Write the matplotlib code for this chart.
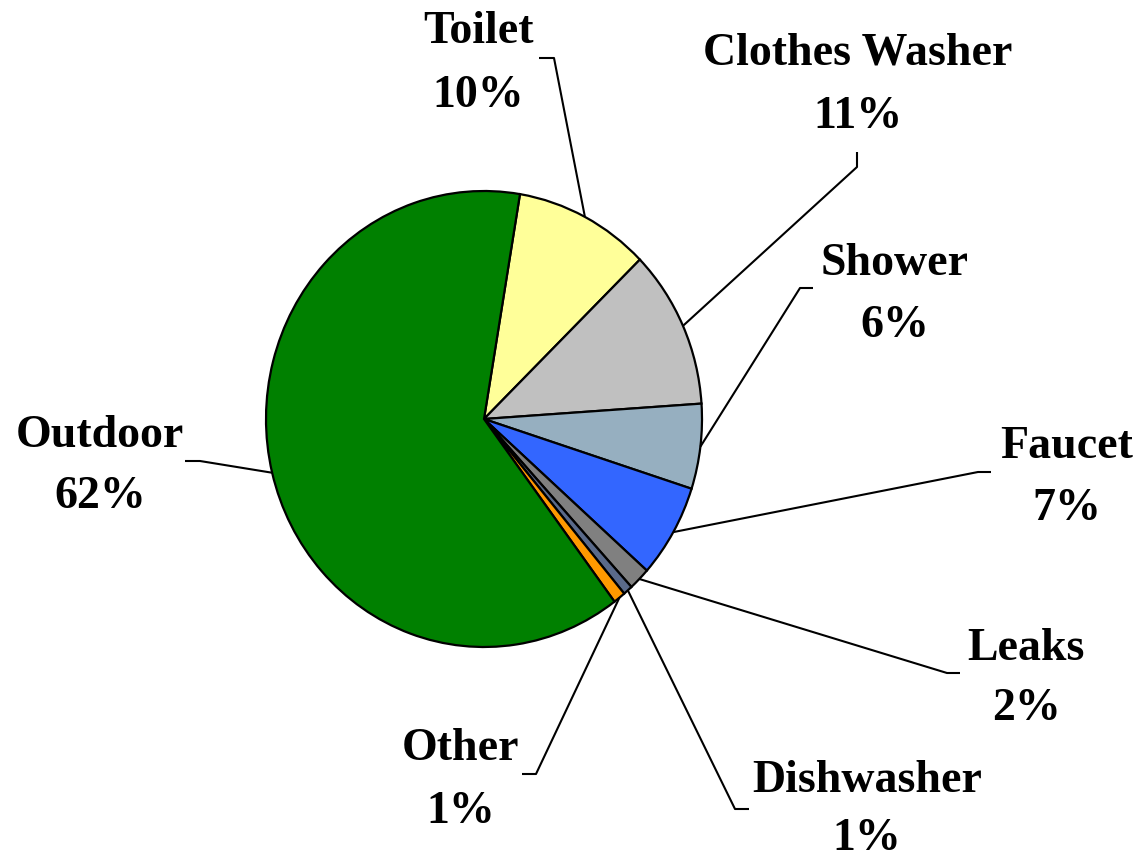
import numpy as np
import matplotlib
matplotlib.use('Agg')
import matplotlib.pyplot as plt

# slices, clockwise from the top
names = ['Toilet', 'Clothes Washer', 'Shower', 'Faucet', 'Leaks', 'Dishwasher', 'Other', 'Outdoor']
shares = [10.0, 11.2, 6.0, 6.6, 1.6, 0.7, 0.9, 62.6]
pct_labels = ['10%', '11%', '6%', '7%', '2%', '1%', '1%', '62%']
colors = ['#FFFF99', '#C0C0C0', '#96AFC0', '#3366FF', '#808080', '#5A6A8A', '#FF9900', '#008000']

# label layout in pixels: text centre x, baseline of name line, baseline of pct line
text_x = [478, 858, 895, 1067, 1026, 867, 461, 100]
name_y = [43, 65, 275, 458, 660, 792, 760, 447]
pct_y = [107, 128, 337, 520, 720, 850, 823, 508]
# leader line: elbow point and end of short tail (pixels)
elbow = [(554, 58), (857, 167), (800, 288), (978, 472), (947, 673), (735, 809), (536, 774), (200, 461)]
tail = [(539, 58), (857, 152), (813, 288), (991, 472), (960, 673), (749, 809), (522, 774), (185, 461)]

W, H = 1145, 860
cx, cy = 484, 419      # pie centre in pixels
rx, ry = 218, 228      # pie radii in pixels (slightly tall)


def px(x, y):
    return (x - cx) / rx, (cy - y) / ry


fig = plt.figure(figsize=(W / 100, H / 100), dpi=100)
ax = fig.add_axes([0, 0, 1, 1])

wedges, _ = ax.pie(shares, colors=colors, startangle=80.5, counterclock=False,
                   wedgeprops=dict(edgecolor='black', linewidth=1.6))
ax.set_aspect('auto')
ax.set_xlim(-cx / rx, (W - cx) / rx)
ax.set_ylim(-(H - cy) / ry, cy / ry)
ax.axis('off')

font = dict(family='Liberation Serif', fontweight='bold', fontsize=33, ha='center', va='baseline')

for i, w in enumerate(wedges):
    mid = np.deg2rad((w.theta1 + w.theta2) / 2)
    x0, y0 = np.cos(mid), np.sin(mid)
    ex, ey = px(*elbow[i])
    tx, ty = px(*tail[i])
    ax.plot([x0, ex, tx], [y0, ey, ty], color='black', linewidth=1.5, solid_capstyle='butt')
    lx, ly = px(text_x[i], name_y[i])
    ax.text(lx, ly, names[i], **font)
    lx, ly = px(text_x[i], pct_y[i])
    ax.text(lx, ly, pct_labels[i], **font)

fig.savefig('out.png', dpi=100, facecolor='white')
